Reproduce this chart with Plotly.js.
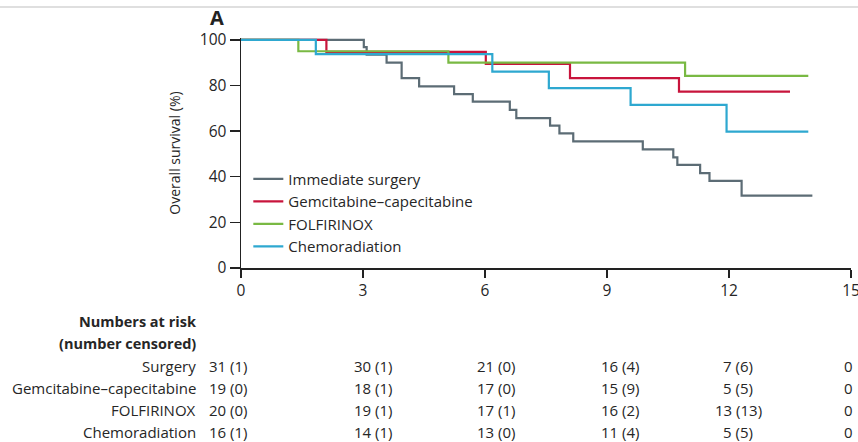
<!DOCTYPE html>
<html><head><meta charset="utf-8">
<script src="https://cdn.plot.ly/plotly-3.0.1.min.js"></script>
<style>html,body{margin:0;padding:0;background:#fff}#chart{width:858px;height:442px}</style>
</head><body><div id="chart"></div>
<script>
// ---- data ----
const seriesNames = ['Immediate surgery', 'Gemcitabine–capecitabine', 'FOLFIRINOX', 'Chemoradiation'];
const surgeryTime = [0, 3.02, 3.09, 3.58, 3.95, 4.38, 5.24, 5.70, 6.61, 6.77, 7.60, 7.83, 8.17, 9.88, 10.63, 10.73, 11.29, 11.52, 12.31, 14.05];
const surgerySurv = [100, 96.8, 93.5, 90.0, 83.2, 79.6, 76.2, 72.9, 69.3, 65.7, 62.4, 59.0, 55.5, 52.0, 48.5, 45.2, 41.6, 38.2, 31.7, 31.7];
const gemcapTime = [0, 2.10, 6.02, 8.09, 10.77, 13.50];
const gemcapSurv = [100, 94.7, 89.5, 83.2, 77.3, 77.3];
const folfTime = [0, 1.41, 5.10, 10.92, 13.95];
const folfSurv = [100, 95.0, 90.0, 84.2, 84.2];
const chemoradTime = [0, 1.84, 6.18, 7.57, 9.58, 11.94, 13.95];
const chemoradSurv = [100, 93.75, 86.1, 78.8, 71.5, 59.8, 59.8];

const xTicks = [0, 3, 6, 9, 12, 15];
const yTicks = [0, 20, 40, 60, 80, 100];
const riskTimes = [0, 3, 6, 9, 12, 15];
const riskHeader = ['Numbers at risk', '(number censored)'];
const riskRowLabels = ['Surgery', 'Gemcitabine–capecitabine', 'FOLFIRINOX', 'Chemoradiation'];
const riskSurgery = ['31 (1)', '30 (1)', '21 (0)', '16 (4)', '7 (6)', '0'];
const riskGemcap = ['19 (0)', '18 (1)', '17 (0)', '15 (9)', '5 (5)', '0'];
const riskFolf = ['20 (0)', '19 (1)', '17 (1)', '16 (2)', '13 (13)', '0'];
const riskChemorad = ['16 (1)', '14 (1)', '13 (0)', '11 (4)', '5 (5)', '0'];

// ---- styles ----
const colors = ['#5c6c75', '#c8143c', '#79b943', '#2ea8d0'];
const FONT = '"Open Sans", "Noto Sans", sans-serif';
const TXT = '#262626';
const FS = 15;

const times = [surgeryTime, gemcapTime, folfTime, chemoradTime];
const survs = [surgerySurv, gemcapSurv, folfSurv, chemoradSurv];
const traces = seriesNames.map((n, i) => ({
  type: 'scatter', mode: 'lines', name: n,
  x: times[i], y: survs[i],
  line: {shape: 'hv', color: colors[i], width: 2.2},
  hoverinfo: 'skip'
}));

// plot geometry helpers (pixel offsets relative to plot bottom-left)
const plotBottomPx = 268, plotLeftPx = 241;
const annotations = [];
const headerY = [321, 343];
riskHeader.forEach((t, k) => annotations.push({
  xref: 'paper', yref: 'paper', x: 0, y: 0, xanchor: 'right', yanchor: 'middle',
  xshift: 198 - plotLeftPx, yshift: plotBottomPx - headerY[k],
  text: '<b>' + t + '</b>', showarrow: false, font: {family: FONT, size: 14.5, color: TXT}
}));
const rowY = [366, 388, 410, 432];
const rows = [riskSurgery, riskGemcap, riskFolf, riskChemorad];
const colShift = [-13, 10, 11, 13, 9, -3];
riskRowLabels.forEach((lab, r) => {
  annotations.push({
    xref: 'paper', yref: 'paper', x: 0, y: 0, xanchor: 'right', yanchor: 'middle',
    xshift: 198 - plotLeftPx, yshift: plotBottomPx - rowY[r],
    text: lab, showarrow: false, font: {family: FONT, size: FS, color: TXT}
  });
  rows[r].forEach((v, c) => annotations.push({
    xref: 'x', yref: 'paper', x: riskTimes[c], y: 0, xanchor: 'center', yanchor: 'middle',
    xshift: colShift[c], yshift: plotBottomPx - rowY[r],
    text: v, showarrow: false, font: {family: FONT, size: FS, color: TXT}
  }));
});

const layout = {
  width: 858, height: 442,
  margin: {l: 241, r: 7, t: 38, b: 174, pad: 0},
  paper_bgcolor: '#fff', plot_bgcolor: '#fff',
  font: {family: FONT, size: FS, color: TXT},
  showlegend: true,
  title: {text: '<b>A</b>', x: 217 / 858, xanchor: 'center', y: 1 - 18 / 442, yanchor: 'middle',
          xref: 'container', yref: 'container', font: {family: FONT, size: 20, color: '#222'}},
  xaxis: {range: [0, 15], tickvals: xTicks, ticktext: xTicks.map(String), ticks: 'outside', ticklen: 8,
          tickwidth: 1.5, tickcolor: '#222', showline: true, linecolor: '#222', linewidth: 1.5,
          ticklabeloverflow: 'allow',
          showgrid: false, zeroline: false, tickfont: {family: FONT, size: 15.5, color: TXT}, fixedrange: true},
  yaxis: {range: [0, 100.8], tickvals: yTicks, ticks: 'outside', ticklen: 10, tickwidth: 1.5, tickcolor: '#222',
          showline: true, linecolor: '#222', linewidth: 1.5, showgrid: false, zeroline: false,
          tickfont: {family: FONT, size: 15.5, color: TXT}, fixedrange: true,
          title: {text: 'Overall survival (%)', font: {family: FONT, size: 14, color: TXT}, standoff: 16}},
  legend: {x: 0.012, y: 0.458, xanchor: 'left', yanchor: 'top', bgcolor: 'rgba(0,0,0,0)',
           font: {family: FONT, size: FS, color: TXT}, traceorder: 'normal'},
  shapes: [{type: 'line', xref: 'paper', yref: 'paper', x0: -241 / 610, x1: 1 + 7 / 610,
            y0: 1 + (38 - 7) / 230, y1: 1 + (38 - 7) / 230, line: {color: '#d4d4d4', width: 1.5}}],
  annotations: annotations
};

Plotly.newPlot('chart', traces, layout, {staticPlot: true, displayModeBar: false});
</script>
</body></html>
